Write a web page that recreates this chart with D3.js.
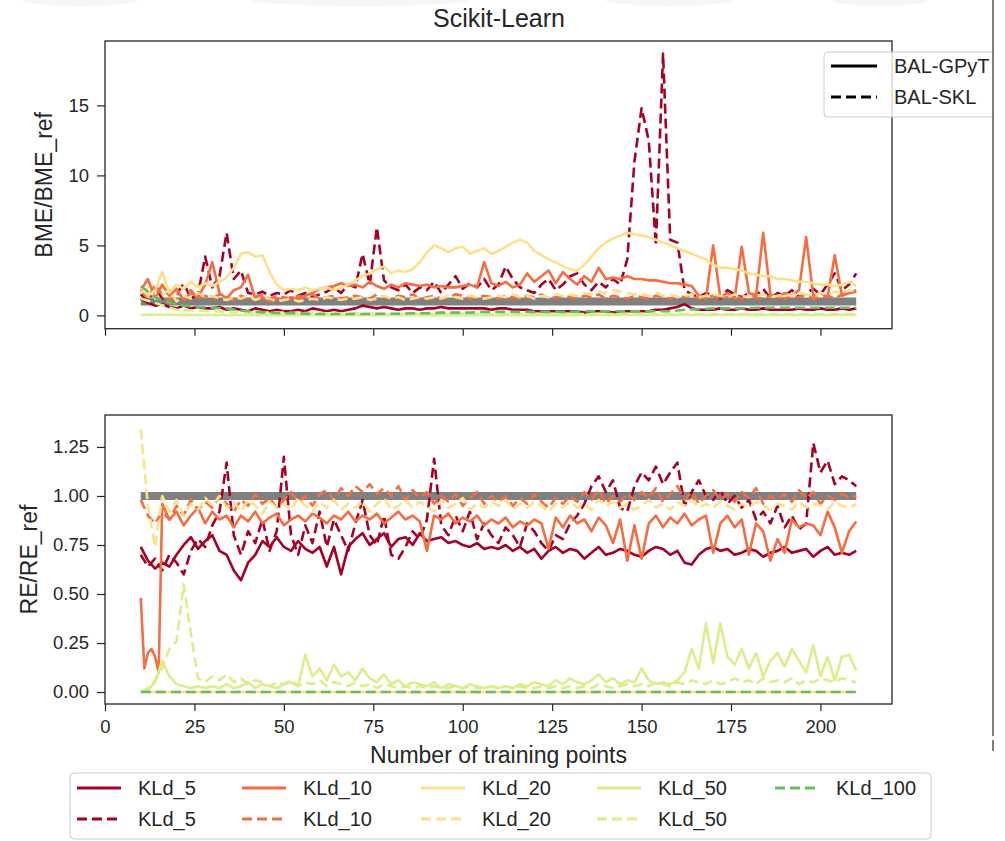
<!DOCTYPE html>
<html>
<head>
<meta charset="utf-8">
<script src="https://cdn.jsdelivr.net/npm/d3@7"></script>
<style>
  body { margin: 0; background: #fff; }
  svg { display: block; font-family: "Liberation Sans", Arial, Helvetica, sans-serif; }
</style>
</head>
<body>
<svg id="chart" width="1005" height="841"></svg>
<script>

// training point counts used as x for each series
var xStep2  = d3.range(10, 211, 2);
var xStep4  = d3.range(10, 211, 4);
var xStep10 = d3.range(10, 211, 10);
var xStep20 = d3.range(10, 211, 20);
var xOrangeLow = [10, 11, 12, 13, 14, 15].concat(d3.range(16, 211, 2));

var xTicks   = [0, 25, 50, 75, 100, 125, 150, 175, 200];
var topTicks = [0, 5, 10, 15];
var botTicks = [0, 0.25, 0.5, 0.75, 1.0, 1.25];

var kldNames  = ["KLd_5", "KLd_10", "KLd_20", "KLd_50", "KLd_100"];
var kldColors = ["#a50026", "#f46d43", "#fee08b", "#d9ef8b", "#66bd63"];
var methods   = ["BAL-GPyT", "BAL-SKL"];
var refValue  = 1.0;

// ---- BME/BME_ref (top panel) ----
var top_kld5_gp = [1.2,0.9,0.7,0.8,0.6,0.5,0.7,0.5,0.6,0.5,
  0.5,0.6,0.4,0.5,0.4,0.3,0.5,0.4,0.3,0.4,
  0.3,0.3,0.4,0.3,0.5,0.4,0.3,0.4,0.3,0.4,
  0.5,0.7,0.6,0.5,0.6,0.5,0.4,0.5,0.5,0.4,
  0.5,0.5,0.6,0.5,0.5,0.5,0.5,0.5,0.5,0.4,
  0.5,0.5,0.4,0.4,0.4,0.3,0.3,0.3,0.3,0.3,
  0.3,0.3,0.2,0.3,0.3,0.3,0.2,0.3,0.3,0.3,
  0.3,0.3,0.4,0.4,0.5,0.6,0.8,0.5,0.4,0.4,
  0.4,0.5,0.4,0.4,0.5,0.4,0.4,0.5,0.4,0.4,
  0.4,0.4,0.5,0.4,0.4,0.5,0.4,0.4,0.5,0.4,
  0.5];
var top_kld5_skl = [1.5,1.0,2.0,1.2,1.8,1.5,2.3,1.2,1.5,4.2,
  2.0,2.8,5.9,2.6,3.2,1.6,1.5,1.7,1.4,1.6,
  1.5,1.8,1.4,1.6,1.3,1.5,1.7,2.0,1.6,2.2,
  2.0,4.4,2.2,6.3,2.5,2.0,1.8,2.2,1.6,2.0,
  1.8,2.4,1.6,2.2,2.8,1.9,2.3,2.0,2.6,1.8,
  2.2,3.5,2.6,2.0,1.8,1.6,2.2,2.6,1.8,2.2,
  2.8,3.0,2.2,1.8,2.4,2.0,2.6,2.2,4.0,11.0,
  14.8,12.5,5.0,18.7,5.4,5.2,1.8,1.5,1.3,1.6,
  1.4,1.2,1.8,1.5,1.3,1.6,1.4,1.9,1.2,1.6,
  1.4,1.8,1.3,1.6,1.9,1.5,2.2,3.0,1.8,2.2,
  3.0];
var top_kld10_gp = [1.8,2.6,1.2,2.2,1.4,1.9,1.1,1.6,1.3,2.2,
  3.8,1.6,1.2,1.8,2.0,2.9,1.2,1.3,1.0,1.2,
  1.1,1.3,1.2,1.4,1.6,1.9,2.0,2.1,2.3,2.1,
  2.2,2.0,2.4,2.1,1.9,2.2,2.0,2.3,2.2,2.1,
  2.2,2.0,2.1,2.0,2.0,2.1,2.2,2.0,3.8,2.3,
  2.1,2.4,2.0,2.2,3.0,2.4,2.8,3.2,2.3,3.1,
  2.6,2.2,2.8,2.4,3.4,2.6,2.7,2.6,2.8,2.6,
  2.6,2.5,2.5,2.4,2.3,2.3,2.2,2.1,1.4,1.2,
  5.0,1.3,1.6,1.2,4.9,1.6,1.4,5.9,1.5,1.3,
  1.6,1.4,1.8,5.6,1.4,1.6,1.3,4.3,1.4,1.6,
  1.7];
var top_kld10_skl = [1.8,1.2,2.2,1.5,1.0,1.6,1.3,1.8,1.2,1.4,
  1.2,1.5,1.3,1.1,1.4,1.2,1.3,1.5,1.2,1.4,
  1.3,1.2,1.4,1.3,1.5,1.2,1.3,1.4,1.2,1.3,
  1.4,1.3,1.2,1.5,1.3,1.2,1.4,1.3,1.5,1.2,
  1.3,1.4,1.2,1.3,1.5,1.4,1.2,1.3,1.4,1.3,
  1.2,1.4,1.3,1.2,1.4,1.3,1.5,1.2,1.3,1.4,
  1.3,1.2,1.4,1.3,1.5,1.2,1.4,1.3,1.2,1.4,
  1.3,1.2,1.4,1.3,1.2,1.4,1.3,1.5,1.2,1.3,
  1.4,1.2,1.3,1.5,1.2,1.4,1.3,1.2,1.4,1.3,
  1.2,1.4,1.3,1.5,1.2,1.3,1.4,1.2,1.5,1.6,
  1.8];
var top_kld20_gp = [2.0,1.4,1.8,3.1,1.6,2.2,1.9,2.4,2.0,2.3,
  2.1,2.4,2.7,3.4,4.4,4.5,4.2,4.3,3.1,2.2,
  1.8,1.9,1.8,2.0,1.8,1.9,2.0,1.8,2.0,2.2,
  2.5,2.8,3.0,3.3,3.5,3.0,3.2,3.1,3.3,3.8,
  4.5,5.0,4.8,4.5,4.8,4.9,4.4,4.6,4.8,4.4,
  4.6,4.9,5.2,5.4,5.2,4.6,4.3,4.0,3.8,3.5,
  3.3,3.2,3.6,4.2,4.8,5.2,5.5,5.7,5.9,5.8,
  5.7,5.6,5.4,5.2,5.0,4.8,4.6,4.4,4.2,4.0,
  3.6,3.4,3.4,3.3,3.2,3.0,2.9,2.8,2.8,2.6,
  2.6,2.5,2.4,2.4,2.3,2.2,2.2,2.1,2.2,2.4,
  2.1];
var top_kld20_skl = [1.6,2.0,1.2,1.5,1.8,1.0,1.4,1.2,1.6,1.3,
  1.4,1.2,1.1,1.3,1.2,1.4,1.1,1.3,1.2,1.0,
  1.1,1.2,1.0,1.1,1.2,1.1,1.3,1.2,1.1,1.2,
  1.2,1.3,1.1,1.2,1.4,1.2,1.3,1.1,1.2,1.3,
  1.2,1.3,1.2,1.4,1.3,1.2,1.4,1.3,1.2,1.3,
  1.4,1.3,1.5,1.3,1.4,1.2,1.4,1.3,1.5,1.4,
  1.5,1.4,1.6,1.5,1.7,1.6,1.8,1.7,1.6,1.5,
  1.5,1.4,1.6,1.4,1.5,1.3,1.4,1.5,1.3,1.4,
  1.5,1.4,1.3,1.5,1.4,1.3,1.4,1.5,1.3,1.4,
  1.5,1.4,1.6,1.5,1.4,1.6,1.5,1.7,1.6,1.8,
  1.7];
var top_kld50_gp  = [0.05,0.03,0.02,0.02,0.02,0.02,0.02,0.03,0.03,0.03,0.03];
var top_kld50_skl = [1.2,0.4,0.3,0.2,0.2,0.15,0.15,0.1,0.1,0.1,
  0.1,0.1,0.1,0.1,0.1,0.1,0.1,0.1,0.1,0.1,0.1];
var top_kld100_skl = [2.1,1.3,0.9,0.7,0.6,0.55,0.5,0.35,0.25,0.2,
  0.15,0.15,0.1,0.1,0.1,0.1,0.1,0.12,0.12,0.15,
  0.15,0.2,0.2,0.2,0.25,0.25,0.25,0.25,0.25,0.25,
  0.25,0.3,0.3,0.3,0.3,0.3,0.3,0.3,0.4,0.45,
  0.5,0.5,0.5,0.55,0.55,0.55,0.55,0.55,0.55,0.55,
  0.55];

// ---- RE/RE_ref (bottom panel) ----
var bot_kld5_gp = [0.74,0.67,0.63,0.66,0.64,0.70,0.75,0.79,0.73,0.77,
  0.80,0.72,0.70,0.62,0.57,0.66,0.70,0.77,0.74,0.79,
  0.74,0.72,0.77,0.73,0.71,0.74,0.64,0.74,0.60,0.74,
  0.78,0.81,0.75,0.78,0.81,0.74,0.78,0.79,0.75,0.81,
  0.77,0.78,0.79,0.76,0.77,0.75,0.74,0.76,0.73,0.74,
  0.73,0.75,0.72,0.74,0.71,0.73,0.68,0.72,0.74,0.71,
  0.73,0.72,0.68,0.71,0.74,0.70,0.71,0.73,0.72,0.70,
  0.69,0.72,0.74,0.73,0.70,0.72,0.66,0.65,0.70,0.73,
  0.74,0.72,0.73,0.70,0.71,0.73,0.72,0.69,0.71,0.72,
  0.74,0.71,0.72,0.73,0.69,0.72,0.74,0.70,0.71,0.70,
  0.72];
var bot_kld5_skl = [0.70,0.64,0.68,0.62,0.70,0.66,0.60,0.72,0.78,0.74,
  0.85,0.92,1.17,0.80,0.70,0.82,0.76,0.88,0.72,0.82,
  1.20,0.80,0.70,0.85,0.76,0.92,0.74,0.88,0.80,0.72,
  0.86,0.98,0.80,0.75,0.90,0.70,0.68,0.74,0.82,0.78,
  0.88,1.19,0.85,0.80,0.90,0.82,0.92,0.78,0.86,0.80,
  0.76,0.84,0.80,0.74,0.86,0.82,0.76,0.72,0.80,0.78,
  0.86,0.90,0.96,1.05,1.10,1.02,1.08,0.94,0.92,1.05,
  1.12,1.08,1.15,1.06,1.12,1.17,0.95,1.02,1.08,1.00,
  0.98,1.03,0.96,1.00,0.94,0.98,0.88,0.92,0.86,0.95,
  0.84,0.90,0.83,0.86,1.27,1.12,1.18,1.06,1.10,1.08,
  1.05];
var bot_kld10_gp = [0.48,0.12,0.20,0.22,0.18,0.10,
  0.96,0.88,0.92,0.85,0.90,0.94,0.86,0.92,0.88,0.90,
  0.84,0.90,0.87,0.92,0.86,0.89,0.91,0.85,0.88,0.90,
  0.87,0.91,0.89,0.86,0.90,0.88,0.92,0.87,0.90,0.88,
  0.91,0.86,0.89,0.92,0.88,0.90,0.87,0.72,0.90,0.88,
  0.91,0.86,0.89,0.87,0.90,0.85,0.88,0.86,0.89,0.84,
  0.87,0.85,0.88,0.86,0.73,0.89,0.84,0.90,0.86,0.88,
  0.82,0.89,0.85,0.76,0.88,0.67,0.85,0.68,0.86,0.90,
  0.84,0.89,0.86,0.91,0.85,0.88,0.90,0.71,0.86,0.90,
  0.84,0.88,0.70,0.86,0.82,0.67,0.78,0.71,0.88,0.84,
  0.86,0.85,0.80,0.92,0.84,0.71,0.82,0.87];
var bot_kld10_skl = [0.98,0.90,0.86,0.92,0.88,0.95,0.90,0.98,0.93,0.97,
  0.94,1.00,0.96,0.92,0.98,0.95,1.01,0.96,0.99,0.94,
  0.98,1.02,0.97,1.00,0.95,1.01,1.03,0.98,1.04,1.00,
  1.05,1.02,1.06,1.01,1.04,1.00,1.05,0.98,1.03,0.99,
  1.02,0.96,1.00,0.97,1.01,0.95,0.99,1.02,0.96,1.00,
  0.97,1.00,0.95,0.99,0.96,1.01,0.97,0.94,0.99,0.96,
  1.00,0.97,1.02,0.98,1.03,0.96,1.00,0.97,1.01,0.98,
  1.02,0.99,1.04,0.97,1.01,1.05,0.98,1.02,0.96,1.00,
  1.03,0.98,1.01,0.97,1.02,0.99,1.04,0.96,1.00,0.98,
  1.01,0.97,1.03,0.99,1.02,0.96,1.00,0.98,1.01,0.99,
  1.00];
var bot_kld20_gp = [0,0,0,0,0,0,0,0,0,0,0];
var bot_kld20_skl = [1.34,0.95,0.74,1.00,0.92,0.98,0.90,0.96,0.93,0.99,
  0.95,1.00,0.94,0.97,0.92,0.98,0.95,0.91,0.97,0.94,
  0.96,0.93,0.99,0.95,0.92,0.97,0.94,0.98,0.93,0.96,
  0.94,0.97,0.92,0.96,0.99,0.93,0.95,0.98,0.94,0.97,
  0.95,0.92,0.98,0.94,0.96,0.99,0.93,0.96,0.94,0.97,
  0.95,0.98,0.93,0.96,0.94,0.97,0.95,0.92,0.96,0.94,
  0.97,0.94,0.96,0.93,0.98,0.95,0.97,0.94,0.96,0.93,
  0.95,0.98,0.94,0.96,0.93,0.97,0.95,0.98,0.94,0.96,
  0.94,0.97,0.95,0.93,0.96,0.94,0.97,0.95,0.93,0.96,
  0.95,0.93,0.97,0.94,0.96,0.95,0.93,0.97,0.95,0.94,
  0.96];
var bot_kld50_gp = [0.00,0.01,0.05,0.16,0.08,0.04,0.03,0.02,0.03,0.02,
  0.03,0.02,0.04,0.02,0.03,0.05,0.02,0.04,0.03,0.02,
  0.04,0.05,0.03,0.19,0.08,0.12,0.06,0.14,0.08,0.10,
  0.06,0.12,0.07,0.05,0.09,0.04,0.06,0.03,0.05,0.04,
  0.03,0.05,0.02,0.04,0.03,0.02,0.04,0.03,0.02,0.03,
  0.02,0.03,0.02,0.04,0.03,0.05,0.04,0.03,0.06,0.04,
  0.07,0.05,0.04,0.06,0.09,0.05,0.07,0.04,0.06,0.05,
  0.12,0.06,0.04,0.05,0.04,0.06,0.10,0.22,0.12,0.35,
  0.15,0.35,0.18,0.14,0.22,0.12,0.20,0.08,0.16,0.20,
  0.13,0.22,0.16,0.10,0.24,0.08,0.18,0.06,0.18,0.19,
  0.11];
var bot_kld50_skl = [0.00,0.02,0.06,0.12,0.22,0.26,0.55,0.30,0.07,0.05,
  0.08,0.06,0.09,0.05,0.07,0.04,0.06,0.05,0.03,0.05,
  0.04,0.06,0.03,0.05,0.04,0.06,0.03,0.05,0.04,0.03,
  0.05,0.03,0.04,0.02,0.04,0.03,0.02,0.03,0.02,0.03,
  0.02,0.03,0.02,0.02,0.03,0.02,0.03,0.02,0.02,0.03,
  0.02,0.03,0.02,0.03,0.02,0.02,0.03,0.02,0.03,0.02,
  0.03,0.02,0.03,0.02,0.04,0.03,0.02,0.03,0.04,0.03,
  0.04,0.03,0.05,0.04,0.03,0.05,0.04,0.06,0.05,0.04,
  0.06,0.04,0.05,0.07,0.05,0.06,0.04,0.07,0.05,0.06,
  0.05,0.07,0.04,0.06,0.05,0.07,0.06,0.05,0.07,0.06,
  0.05];
var bot_kld100_skl = [0,0,0,0,0,0,0,0,0,0,0];

// k = index into kldNames, m = 0 solid (GPyT) / 1 dashed (SKL)
var topSeries = [
  {k: 0, m: 0, x: xStep2,  y: top_kld5_gp},
  {k: 0, m: 1, x: xStep2,  y: top_kld5_skl},
  {k: 1, m: 0, x: xStep2,  y: top_kld10_gp},
  {k: 1, m: 1, x: xStep2,  y: top_kld10_skl},
  {k: 2, m: 0, x: xStep2,  y: top_kld20_gp},
  {k: 2, m: 1, x: xStep2,  y: top_kld20_skl},
  {k: 3, m: 0, x: xStep20, y: top_kld50_gp},
  {k: 3, m: 1, x: xStep10, y: top_kld50_skl},
  {k: 4, m: 1, x: xStep4,  y: top_kld100_skl}
];
var botSeries = [
  {k: 0, m: 0, x: xStep2,  y: bot_kld5_gp},
  {k: 0, m: 1, x: xStep2,  y: bot_kld5_skl},
  {k: 1, m: 0, x: xOrangeLow, y: bot_kld10_gp},
  {k: 1, m: 1, x: xStep2,  y: bot_kld10_skl},
  {k: 2, m: 0, x: xStep20, y: bot_kld20_gp},
  {k: 2, m: 1, x: xStep2,  y: bot_kld20_skl},
  {k: 3, m: 0, x: xStep2,  y: bot_kld50_gp},
  {k: 3, m: 1, x: xStep2,  y: bot_kld50_skl},
  {k: 4, m: 1, x: xStep20, y: bot_kld100_skl}
];

var svg = d3.select("#chart");
var ink = "#262626";
var dash = "10,5";

// faint scan remnants along the top edge
[[80, 58], [360, 110], [670, 65], [880, 48]].forEach(function(e){
  svg.append("ellipse").attr("cx", e[0]).attr("cy", 0).attr("rx", e[1]).attr("ry", 6)
    .attr("fill", "#edf1f5").attr("opacity", 0.6);
});

var x = d3.scaleLinear().domain([0, 220]).range([105, 892]);

var panels = [
  {name: "top", y: d3.scaleLinear().domain([-0.95, 19.6]).range([328.7, 41]),
   ticks: topTicks, fmt: d3.format("d"), label: "BME/BME_ref", labelX: 52,
   series: topSeries, xLabels: false},
  {name: "bot", y: d3.scaleLinear().domain([-0.061, 1.413]).range([704, 415]),
   ticks: botTicks, fmt: d3.format(".2f"), label: "RE/RE_ref", labelX: 37,
   series: botSeries, xLabels: true}
];

panels.forEach(function(p){
  var y = p.y;
  var y0 = y.range()[0], y1 = y.range()[1];
  var g = svg.append("g");

  g.append("clipPath").attr("id", "clip-" + p.name)
    .append("rect").attr("x", 105).attr("y", y1).attr("width", 787).attr("height", y0 - y1);

  var plot = g.append("g").attr("clip-path", "url(#clip-" + p.name + ")");

  // reference line at 1
  plot.append("line")
    .attr("x1", x(10)).attr("x2", x(210))
    .attr("y1", y(refValue)).attr("y2", y(refValue))
    .attr("stroke", "#808080").attr("stroke-width", 8);

  var line = d3.line().x(function(d){ return x(d[0]); }).y(function(d){ return y(d[1]); });

  p.series.forEach(function(s){
    var pts = s.y.map(function(v, i){ return [s.x[i], v]; });
    plot.append("path")
      .attr("d", line(pts))
      .attr("fill", "none")
      .attr("stroke", kldColors[s.k])
      .attr("stroke-width", 2.6)
      .attr("stroke-linejoin", "round")
      .attr("stroke-dasharray", s.m === 1 ? dash : null);
  });

  // axes
  var ax = g.append("g").attr("transform", "translate(0," + y0 + ")")
    .call(d3.axisBottom(x).tickValues(xTicks).tickSize(7).tickPadding(9)
      .tickFormat(p.xLabels ? d3.format("d") : ""));
  var ay = g.append("g").attr("transform", "translate(105,0)")
    .call(d3.axisLeft(y).tickValues(p.ticks).tickSize(8).tickPadding(8).tickFormat(p.fmt));

  [ax, ay].forEach(function(a){
    a.select(".domain").remove();
    a.selectAll("line").attr("stroke", ink).attr("stroke-width", 1.2);
    a.selectAll("text").attr("fill", ink).attr("font-size", 18.5)
      .attr("font-family", "Liberation Sans, Arial, sans-serif");
  });

  g.append("rect").attr("x", 105).attr("y", y1).attr("width", 787).attr("height", y0 - y1)
    .attr("fill", "none").attr("stroke", ink).attr("stroke-width", 1.3);

  g.append("text")
    .attr("transform", "translate(" + p.labelX + "," + ((y0 + y1) / 2) + ") rotate(-90)")
    .attr("text-anchor", "middle").attr("font-size", 23).attr("fill", ink)
    .text(p.label);
});

// title and x label
svg.append("text").attr("x", 499).attr("y", 27).attr("text-anchor", "middle")
  .attr("font-size", 25).attr("fill", ink).text("Scikit-Learn");
svg.append("text").attr("x", 498.5).attr("y", 763).attr("text-anchor", "middle")
  .attr("font-size", 23).attr("fill", ink).text("Number of training points");

// method legend (top right)
var lg = svg.append("g");
lg.append("rect").attr("x", 824).attr("y", 52).attr("width", 190).attr("height", 65).attr("rx", 4)
  .attr("fill", "#fff").attr("fill-opacity", 0.8).attr("stroke", "#cccccc");
methods.forEach(function(m, i){
  var yy = 66 + i * 31;
  lg.append("line").attr("x1", 831).attr("x2", 877).attr("y1", yy).attr("y2", yy)
    .attr("stroke", "#000").attr("stroke-width", 3)
    .attr("stroke-dasharray", i === 1 ? dash : null);
  lg.append("text").attr("x", 894).attr("y", yy + 7).attr("font-size", 20).attr("fill", ink).text(m);
});

// KLd legend (bottom), filled column by column
var bl = svg.append("g");
bl.append("rect").attr("x", 70).attr("y", 773).attr("width", 861).attr("height", 66).attr("rx", 4)
  .attr("fill", "#fff").attr("stroke", "#cccccc");
var colX = [77, 242, 421, 597, 775];
var entries = [];
kldNames.forEach(function(n, k){
  [0, 1].forEach(function(m){
    if (k === 4 && m === 0) return;
    entries.push({k: k, m: m});
  });
});
entries.forEach(function(e, i){
  var cx = colX[Math.floor(i / 2)];
  var yy = 788 + (i % 2) * 31;
  bl.append("line").attr("x1", cx).attr("x2", cx + 44).attr("y1", yy).attr("y2", yy)
    .attr("stroke", kldColors[e.k]).attr("stroke-width", 3)
    .attr("stroke-dasharray", e.m === 1 ? dash : null);
  bl.append("text").attr("x", cx + 61).attr("y", yy + 7).attr("font-size", 20).attr("fill", ink)
    .text(kldNames[e.k]);
});

// right edge: figure is cut off by a separator
svg.append("rect").attr("x", 993.5).attr("y", 0).attr("width", 12).attr("height", 841).attr("fill", "#fff");
svg.append("line").attr("x1", 993).attr("x2", 993).attr("y1", 0).attr("y2", 736)
  .attr("stroke", "#555").attr("stroke-width", 1.5);
svg.append("line").attr("x1", 993).attr("x2", 993).attr("y1", 740).attr("y2", 751)
  .attr("stroke", "#555").attr("stroke-width", 1.5);

</script>
</body>
</html>
